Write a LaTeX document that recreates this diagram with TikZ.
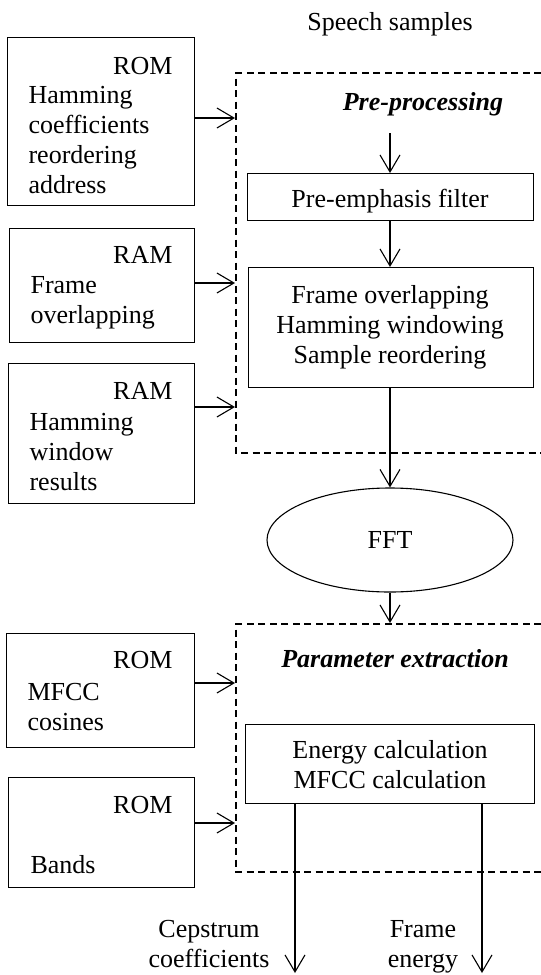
\documentclass[tikz,border=0pt]{standalone}
\usepackage{fontspec}
\setmainfont{Liberation Serif}
\usetikzlibrary{arrows.meta,shapes.geometric}
\begin{document}
\begin{tikzpicture}[x=1pt,y=-1pt,
  font=\fontsize{26}{30}\selectfont,
  line width=1.1pt,
  box/.style={draw, rectangle, anchor=north west, inner sep=0pt},
  txt/.style={inner sep=0pt},
  arr/.style={-{Straight Barb[length=17pt,width=20pt,line width=1.1pt]}},
  dashbox/.style={dash pattern=on 7pt off 4.5pt}]
\useasboundingbox (0,0) rectangle (541,975);
\fill[white] (0,0) rectangle (541,975);

% left memory boxes
\node[box, minimum width=187pt, minimum height=168pt] (rom1) at (7,37) {};
\node[box, minimum width=185pt, minimum height=114pt] (ram1) at (9,228) {};
\node[box, minimum width=186pt, minimum height=140pt] (ram2) at (8,363) {};
\node[box, minimum width=188pt, minimum height=114pt] (rom2) at (6,633) {};
\node[box, minimum width=186pt, minimum height=110pt] (rom3) at (8,777) {};

% texts in memory boxes
\node[txt, anchor=base east] (t1a) at (173,74) {ROM};
\node[txt, anchor=base west] (t1b) at (28,103) {Hamming};
\node[txt, anchor=base west] (t1c) at (28,133) {coefficients};
\node[txt, anchor=base west] (t1d) at (28,163) {reordering};
\node[txt, anchor=base west] (t1e) at (28,193) {address};

\node[txt, anchor=base east] (t2a) at (173,263) {RAM};
\node[txt, anchor=base west] (t2b) at (30,293) {Frame};
\node[txt, anchor=base west] (t2c) at (30,323) {overlapping};

\node[txt, anchor=base east] (t3a) at (173,399) {RAM};
\node[txt, anchor=base west] (t3b) at (29,430) {Hamming};
\node[txt, anchor=base west] (t3c) at (29,460) {window};
\node[txt, anchor=base west] (t3d) at (29,490) {results};

\node[txt, anchor=base east] (t4a) at (173,668) {ROM};
\node[txt, anchor=base west] (t4b) at (27,700) {MFCC};
\node[txt, anchor=base west] (t4c) at (27,730) {cosines};

\node[txt, anchor=base east] (t5a) at (173,813) {ROM};
\node[txt, anchor=base west] (t5b) at (30,873) {Bands};

% dashed groups
\coordinate (d1) at (236,73);
\coordinate (d1b) at (236,453);
\draw[dashbox] (541,73) -- (d1) -- (d1b) -- (541,453);
\coordinate (d2) at (236,624);
\coordinate (d2b) at (236,872);
\draw[dashbox] (541,624) -- (d2) -- (d2b) -- (541,872);

% top title and pre-processing
\node[txt, anchor=base] (speech) at (390,30) {Speech samples};
\node[txt, anchor=base] (prep) at (423,110) {\bfseries\itshape Pre-processing};
\node[box, minimum width=286pt, minimum height=47pt] (pre) at (247,173) {};
\node[txt, anchor=base] (pret) at (390,207) {Pre-emphasis filter};
\node[box, minimum width=285pt, minimum height=120pt] (win) at (248,267) {};
\node[txt, anchor=base] (w1) at (390,303) {Frame overlapping};
\node[txt, anchor=base] (w2) at (390,333) {Hamming windowing};
\node[txt, anchor=base] (w3) at (390,363) {Sample reordering};

\node[draw, ellipse, minimum width=246pt, minimum height=104pt, inner sep=0pt] (fft) at (390,540) {FFT};

\node[txt, anchor=base] (param) at (395,667) {\bfseries\itshape Parameter extraction};
\node[box, minimum width=289pt, minimum height=79pt] (mf) at (245,724) {};
\node[txt, anchor=base] (m1) at (390,758) {Energy calculation};
\node[txt, anchor=base] (m2) at (390,788) {MFCC calculation};

\node[txt, anchor=base] (cep1) at (209,937) {Cepstrum};
\node[txt, anchor=base] (cep2) at (209,967) {coefficients};
\node[txt, anchor=base] (fe1) at (423,937) {Frame};
\node[txt, anchor=base] (fe2) at (423,967) {energy};

% horizontal arrows into dashed groups
\coordinate (a1) at (235,118);
\coordinate (a2) at (235,283);
\coordinate (a3) at (235,407);
\coordinate (a4) at (235,683);
\coordinate (a5) at (235,823);
\draw[arr] (rom1.east |- a1) -- (a1);
\draw[arr] (ram1.east |- a2) -- (a2);
\draw[arr] (ram2.east |- a3) -- (a3);
\draw[arr] (rom2.east |- a4) -- (a4);
\draw[arr] (rom3.east |- a5) -- (a5);

% vertical flow
\coordinate (s0) at (390,133);
\draw[arr] (s0) -- (pre.north -| s0);
\draw[arr] (pre.south -| s0) -- (win.north -| s0);
\draw[arr] (win.south -| s0) -- (fft.north);
\coordinate (p0) at (390,623);
\draw[arr] (fft.south) -- (p0);

\coordinate (o1) at (295,973);
\coordinate (o2) at (482,973);
\draw[arr] (mf.south -| o1) -- (o1);
\draw[arr] (mf.south -| o2) -- (o2);
\end{tikzpicture}
\end{document}
